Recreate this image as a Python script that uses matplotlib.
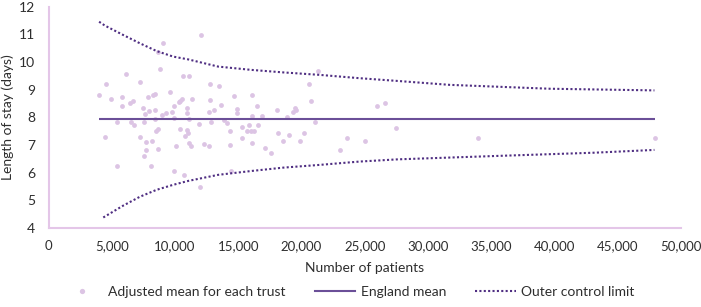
import matplotlib
matplotlib.use("Agg")
import matplotlib.pyplot as plt
from matplotlib.ticker import FuncFormatter, MultipleLocator
from matplotlib.lines import Line2D

# ---- data ----
trust_patients = [3989, 4566, 4487, 4913, 5387, 6145, 5829, 5806, 6414, 6698,
                  6493, 6730, 7251, 7441, 7251, 7622, 7859, 7938, 7543, 7677,
                  8199, 7543, 7677, 8278, 8412, 8436, 8436, 8468, 8649, 8649,
                  9068, 8831, 8673, 8965, 9258, 9574, 9755, 9889, 9937, 10071,
                  10284, 10411, 10569, 10387, 10648, 11122, 10916, 10940, 11074, 10964,
                  11043, 10782, 11122, 11256, 11359, 11912, 12046, 12259, 12678, 12733,
                  12733, 12702, 12836, 13073, 13444, 13626, 13863, 14076, 14313, 14336,
                  14629, 14913, 14866, 15285, 15285, 15703, 15837, 15995, 16256, 16051,
                  16051, 16098, 16469, 16548, 16840, 17101, 17599, 18049, 18152, 18523,
                  18815, 18997, 19289, 19447, 19573, 19889, 20206, 20601, 20735, 21106,
                  21288, 23049, 23634, 25024, 25972, 26635, 27449, 33926, 47962,
                  5387, 8120, 9889, 10679, 11943, 14392]
trust_los = [8.81, 9.20, 7.30, 8.65, 7.83, 9.55, 8.73, 8.41, 8.52, 8.60,
             7.83, 7.73, 9.29, 8.35, 7.30, 8.12, 8.72, 8.23, 7.83, 7.12,
             7.16, 6.61, 6.82, 8.81, 8.85, 8.27, 7.95, 7.49, 7.57, 10.35,
             10.69, 9.74, 6.87, 8.08, 8.14, 8.92, 8.18, 8.41, 7.99, 6.96,
             8.54, 8.60, 8.66, 7.57, 9.50, 9.50, 8.35, 8.17, 7.95, 7.54,
             7.42, 7.34, 7.06, 6.97, 8.66, 7.76, 10.98, 7.03, 6.96, 9.20,
             8.61, 8.20, 7.83, 8.27, 9.12, 8.44, 7.90, 7.81, 6.99, 7.51,
             8.78, 8.30, 8.14, 7.66, 7.24, 7.49, 7.71, 7.49, 7.49, 8.81,
             8.06, 7.06, 8.41, 7.73, 8.04, 6.89, 6.70, 8.27, 7.42, 7.14,
             8.01, 7.36, 8.19, 8.35, 8.25, 7.16, 7.42, 9.20, 8.59, 7.84,
             9.67, 6.82, 7.26, 7.14, 8.41, 8.53, 7.62, 7.25, 7.25,
             6.24, 6.24, 6.07, 5.93, 5.48, 6.07]

mean_patients = [3989, 47907]
england_mean = [7.93, 7.93]

upper_patients = [4000, 4460, 5910, 7230, 8550, 9860, 11040, 13410, 16050, 18550,
                  21450, 24600, 27630, 31710, 39610, 47900]
upper_limit = [11.45, 11.31, 10.97, 10.67, 10.39, 10.19, 10.09, 9.83, 9.71, 9.62,
               9.53, 9.41, 9.31, 9.17, 9.03, 8.97]
lower_patients = [4330, 5910, 7230, 8550, 9860, 11040, 13410, 16050, 18550, 21450,
                  24600, 27630, 35270, 43170, 47900]
lower_limit = [4.38, 4.81, 5.13, 5.38, 5.56, 5.70, 5.92, 6.06, 6.18, 6.28,
               6.40, 6.48, 6.60, 6.72, 6.82]

x_label = "Number of patients"
y_label = "Length of stay (days)"
legend_labels = ["Adjusted mean for each trust", "England mean", "Outer control limit"]

# ---- styling ----
plt.rcParams['font.family'] = ['Lato', 'DejaVu Sans']
text_color = "#2e2e2e"
point_color = "#dcc4e4"
mean_color = "#6b4f98"
limit_color = "#4f2e82"
spine_color = "#e4c6e8"
fs = 10

fig = plt.figure(figsize=(7.01, 3.07), dpi=100)
ax = fig.add_axes([48.5/701, 79/307, 632.5/701, 221.5/307])

ax.scatter(trust_patients, trust_los, s=12, color=point_color, linewidths=0, zorder=2)
ax.plot(mean_patients, england_mean, color=mean_color, lw=1.5, zorder=3,
        solid_capstyle='butt')
dot = (0, (1, 1.1))
ax.plot(upper_patients, upper_limit, color=limit_color, lw=1.5, linestyle=dot,
        dash_capstyle='butt', zorder=3)
ax.plot(lower_patients, lower_limit, color=limit_color, lw=1.5, linestyle=dot,
        dash_capstyle='butt', zorder=3)

ax.set_xlim(0, 50000)
ax.set_ylim(4, 12)
ax.xaxis.set_major_locator(MultipleLocator(5000))
ax.yaxis.set_major_locator(MultipleLocator(1))
ax.xaxis.set_major_formatter(FuncFormatter(lambda v, p: f"{int(v):,}"))
ax.yaxis.set_major_formatter(FuncFormatter(lambda v, p: f"{int(v)}"))

for s in ["top", "right"]:
    ax.spines[s].set_visible(False)
for s in ["left", "bottom"]:
    ax.spines[s].set_color(spine_color)
    ax.spines[s].set_linewidth(1.5)
ax.tick_params(axis='both', length=0, labelcolor=text_color)
ax.tick_params(axis='x', pad=8.5, labelsize=9.5)
ax.tick_params(axis='y', pad=9.5, labelsize=fs)

ax.set_xlabel(x_label, fontsize=fs, color=text_color, labelpad=7)
ax.set_ylabel(y_label, fontsize=fs, color=text_color)
ax.yaxis.set_label_coords(-0.0545, 0.5)

handles = [
    Line2D([], [], marker='o', linestyle='none', markersize=3.8,
           markerfacecolor=point_color, markeredgewidth=0),
    Line2D([], [], color=mean_color, lw=1.5),
    Line2D([], [], color=limit_color, lw=1.5, linestyle=dot, dash_capstyle='butt'),
]
leg = fig.legend(handles, legend_labels, loc='lower center', bbox_to_anchor=(0.497, -0.01),
                 ncol=3, frameon=False, fontsize=fs, handlelength=2.9,
                 handletextpad=0.4, columnspacing=2.1)
for t in leg.get_texts():
    t.set_color(text_color)

fig.savefig("out.png", dpi=100)
